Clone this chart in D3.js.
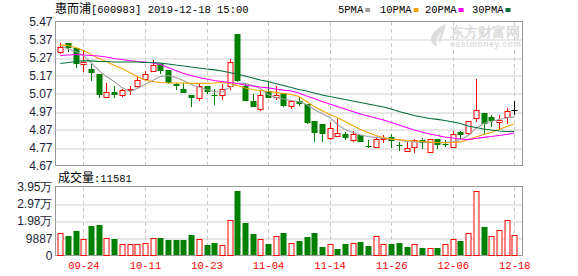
<!DOCTYPE html>
<html lang="zh">
<head>
<meta charset="UTF-8">
<title>惠而浦 日K</title>
<script src="https://d3js.org/d3.v7.min.js"></script>
<style>
  body { margin: 0; background: #fff; }
  svg text { font-family: "Liberation Sans", Arial, sans-serif; }
  .mono { font-family: "Liberation Mono", "Noto Sans CJK SC", monospace; }
</style>
</head>
<body>
<div id="chart"></div>
<script>
// trading days shown (2019)
const days = ["09-19","09-20","09-23","09-24","09-25","09-26","09-27","09-30",
  "10-08","10-09","10-10","10-11","10-14","10-15","10-16","10-17","10-18","10-21","10-22","10-23",
  "10-24","10-25","10-28","10-29","10-30","10-31","11-01","11-04","11-05","11-06","11-07","11-08",
  "11-11","11-12","11-13","11-14","11-15","11-18","11-19","11-20","11-21","11-22","11-25","11-26",
  "11-27","11-28","11-29","12-02","12-03","12-04","12-05","12-06","12-09","12-10","12-11","12-12",
  "12-13","12-16","12-17","12-18"];

const open = [5.30,5.35,5.32,5.235,5.207,5.18,5.05,5.081,5.064,5.09,5.113,5.15,5.194,5.235,5.198,
  5.12,5.096,5.059,5.044,5.109,5.059,5.064,5.11,5.402,5.11,5.031,4.985,5.083,5.049,5.072,
  4.999,5.031,5.009,4.92,4.898,4.82,4.835,4.843,4.81,4.837,4.777,4.772,4.82,4.827,4.783,
  4.753,4.775,4.809,4.744,4.818,4.79,4.772,4.855,4.852,4.935,4.96,4.94,4.91,4.937,4.98];
const high = [5.35,5.35,5.325,5.31,5.235,5.18,5.13,5.109,5.096,5.109,5.16,5.194,5.257,5.235,5.198,
  5.127,5.127,5.059,5.127,5.109,5.096,5.124,5.262,5.402,5.131,5.068,5.09,5.14,5.11,5.072,
  5.031,5.05,5.009,4.92,4.90,4.91,4.929,4.855,4.86,4.837,4.81,4.83,4.837,4.845,4.80,
  4.80,4.818,4.824,4.818,4.818,4.809,4.86,4.864,4.92,5.148,4.96,4.95,4.95,4.99,5.031];
const low = [5.29,5.30,5.21,5.19,5.14,5.045,5.045,5.044,5.05,5.064,5.096,5.146,5.194,5.18,5.12,
  5.092,5.072,4.994,5.031,5.068,5.008,5.035,5.092,5.133,5.031,4.994,4.972,5.046,5.035,4.994,
  4.985,5.0,4.90,4.80,4.80,4.81,4.835,4.81,4.80,4.80,4.765,4.77,4.794,4.77,4.75,
  4.753,4.74,4.763,4.744,4.763,4.772,4.772,4.818,4.837,4.91,4.845,4.885,4.865,4.90,4.948];
const close = [5.33,5.32,5.235,5.245,5.185,5.06,5.08,5.063,5.09,5.096,5.146,5.18,5.23,5.194,5.127,
  5.11,5.072,5.044,5.109,5.077,5.055,5.096,5.247,5.142,5.031,4.994,5.059,5.046,5.059,4.999,
  5.031,5.013,4.905,4.849,4.843,4.88,4.849,4.824,4.846,4.80,4.775,4.818,4.822,4.805,4.781,
  4.766,4.809,4.794,4.818,4.785,4.787,4.846,4.837,4.92,4.979,4.90,4.92,4.925,4.975,4.98];
const volume = [12620,11050,13960,9710,16870,17450,10290,9300,6800,6400,6400,7390,10290,9890,8720,
  8720,8720,11630,9300,5820,6980,6220,20360,36820,18610,12210,9300,6400,11050,12800,
  7390,8140,10470,12800,4650,6800,3490,6800,7390,7750,5230,11440,6800,6400,6980,
  4650,6800,4070,4460,4070,6800,9710,8140,13180,37220,16290,11440,14350,20160,11581];

const ma5 = [5.337,5.317,5.303,5.281,5.242,5.198,5.164,5.137,5.103,5.081,5.098,5.12,5.142,5.164,5.17,
  5.159,5.142,5.12,5.106,5.092,5.081,5.078,5.103,5.126,5.126,5.114,5.098,5.064,5.048,5.039,
  5.031,5.026,5.009,4.981,4.959,4.937,4.898,4.87,4.853,4.839,4.831,4.826,4.82,4.817,4.812,
  4.803,4.801,4.801,4.798,4.798,4.798,4.801,4.814,4.837,4.876,4.903,4.914,4.926,4.934,4.939];
const ma10 = [5.339,5.337,5.326,5.309,5.287,5.264,5.248,5.226,5.209,5.187,5.164,5.145,5.137,5.131,5.128,
  5.128,5.128,5.126,5.126,5.126,5.128,5.131,5.126,5.114,5.101,5.092,5.087,5.081,5.076,5.07,
  5.064,5.053,5.026,4.998,4.976,4.953,4.937,4.914,4.892,4.87,4.853,4.837,4.826,4.817,4.814,
  4.809,4.806,4.803,4.801,4.798,4.796,4.798,4.801,4.814,4.828,4.842,4.853,4.87,4.887,4.901];
const ma20 = [5.281,5.284,5.287,5.284,5.281,5.278,5.273,5.264,5.259,5.253,5.248,5.245,5.239,5.231,5.214,
  5.198,5.181,5.17,5.159,5.151,5.142,5.137,5.131,5.126,5.117,5.112,5.106,5.101,5.095,5.089,
  5.084,5.073,5.056,5.042,5.026,5.012,4.998,4.984,4.97,4.956,4.945,4.934,4.923,4.909,4.895,
  4.881,4.867,4.856,4.845,4.837,4.828,4.823,4.817,4.814,4.82,4.826,4.831,4.837,4.842,4.851];
const ma30 = [5.237,5.242,5.248,5.251,5.251,5.248,5.248,5.245,5.245,5.245,5.245,5.242,5.242,5.239,5.234,
  5.228,5.223,5.217,5.212,5.206,5.201,5.195,5.187,5.178,5.167,5.156,5.145,5.137,5.126,5.114,
  5.103,5.092,5.084,5.073,5.062,5.053,5.045,5.037,5.028,5.02,5.012,5.003,4.995,4.984,4.97,
  4.959,4.948,4.939,4.931,4.926,4.92,4.912,4.903,4.889,4.881,4.873,4.867,4.862,4.859,4.859];

const priceTicks = [4.67,4.77,4.87,4.97,5.07,5.17,5.27,5.37,5.47];
const volTicks = [0,9887,19775,29662,39550];
const volTickLabels = ["0","9887","1.98万","2.97万","3.95万"];
const dateTicks = ["09-24","10-11","10-23","11-04","11-14","11-26","12-06","12-18"];
const maNames = ["5PMA","10PMA","20PMA","30PMA"];

const width = 578, height = 276;
const left = 55.5, right = 522.5;
const RED = "#ff0000", GREEN = "#008000";
const maColors = ["#a0a0a0","#f5a300","#ff00ff","#00703a"];

const svg = d3.select("#chart").append("svg")
  .attr("width", width).attr("height", height);

const x = d3.scalePoint().domain(days).range([60.3, 514.3]);
const y = d3.scaleLinear().domain([4.67, 5.47]).range([165.5, 21.5]);
const yv = d3.scaleLinear().domain([0, 39550]).range([255.5, 186.5]);

const px = d => Math.round(x(d)) + 0.5;

// grid lines
function grid(scale, ticks, top, bottom) {
  svg.append("g").attr("transform", `translate(${left},0)`)
    .call(d3.axisLeft(scale).tickValues(ticks).tickSize(-(right - left)).tickFormat(""))
    .call(g => g.select(".domain").remove())
    .call(g => g.selectAll("line").attr("stroke", "#cfcfcf")
      .attr("y1", d => Math.round(scale(d)) + 0.5 - scale(d))
      .attr("y2", d => Math.round(scale(d)) + 0.5 - scale(d)));
  svg.append("g").selectAll("line").data(dateTicks).join("line")
    .attr("x1", px).attr("x2", px).attr("y1", top).attr("y2", bottom)
    .attr("stroke", "#cccccc").attr("stroke-dasharray", "4,3");
}
grid(y, priceTicks.slice(1, -1), 22, 165);
grid(yv, volTicks.slice(1, -1), 187, 255);

// watermark
const wm = svg.append("g").attr("fill", "#dcdcdc");
wm.append("path")
  .attr("d", "M446,24 C438,27 431,33 431,39 C431,43 434,45 437,46 C435,42 437,36 442,32 C439,36 438,40 440,43 C442,36 445,30 446,24 Z");
wm.append("text").attr("x", 450).attr("y", 37).attr("font-size", 14)
  .attr("font-family", "Noto Sans CJK SC").attr("font-weight", "bold").text("东方财富网");
wm.append("text").attr("x", 450).attr("y", 46.5).attr("font-size", 8.5).attr("font-weight", "bold")
  .attr("letter-spacing", 0.6).text("eastmoney.com");

// frames
svg.append("rect").attr("x", left).attr("y", 21.5).attr("width", right - left).attr("height", 144)
  .attr("fill", "none").attr("stroke", "#999");
svg.append("rect").attr("x", left).attr("y", 186.5).attr("width", right - left).attr("height", 69)
  .attr("fill", "none").attr("stroke", "#999");

// candles
const idx = d3.range(days.length);
const candleColor = i => close[i] > open[i] ? RED : close[i] < open[i] ? GREEN : "#000";
const cg = svg.append("g");
cg.selectAll("line").data(idx).join("line")
  .attr("x1", i => px(days[i])).attr("x2", i => px(days[i]))
  .attr("y1", i => Math.round(y(high[i]))).attr("y2", i => Math.round(y(low[i])))
  .attr("stroke", candleColor);
cg.selectAll("rect").data(idx).join("rect")
  .attr("x", i => Math.round(x(days[i])) - 2 + (close[i] > open[i] ? 0 : -0.5))
  .attr("y", i => Math.round(y(Math.max(open[i], close[i]))) + (close[i] > open[i] ? 0.5 : 0))
  .attr("width", i => close[i] > open[i] ? 5 : 6)
  .attr("height", i => Math.max(1, Math.round(y(Math.min(open[i], close[i]))) - Math.round(y(Math.max(open[i], close[i])))))
  .attr("fill", i => close[i] > open[i] ? "#fff" : candleColor(i))
  .attr("stroke", i => close[i] > open[i] ? RED : "none");

// moving averages
const maData = [ma5, ma10, ma20, ma30];
const line = d3.line().x((d, i) => x(days[i])).y(d => y(d));
svg.append("g").selectAll("path").data(maData).join("path")
  .attr("d", line).attr("fill", "none")
  .attr("stroke", (d, i) => maColors[i]).attr("stroke-width", 1.1);

// volume bars
const volUp = i => i === 0 ? close[i] >= open[i] : close[i] >= close[i - 1];
svg.append("g").selectAll("rect").data(idx).join("rect")
  .attr("x", i => Math.round(x(days[i])) - 2 + (volUp(i) ? 0 : -0.5))
  .attr("y", i => Math.round(yv(volume[i])) + (volUp(i) ? 0.5 : 0))
  .attr("width", i => volUp(i) ? 5 : 6)
  .attr("height", i => 255 - Math.round(yv(volume[i])))
  .attr("fill", i => volUp(i) ? "#fff" : GREEN)
  .attr("stroke", i => volUp(i) ? RED : "none");

// axis labels
svg.append("g").attr("transform", `translate(${left - 1},0)`)
  .call(d3.axisLeft(y).tickValues(priceTicks).tickSize(0).tickPadding(2).tickFormat(d3.format(".2f")))
  .call(g => g.select(".domain").remove())
  .call(g => g.selectAll("text").attr("font-size", 12).attr("fill", "#1e1e38")
    .attr("font-family", "Liberation Sans, Arial, sans-serif"));
svg.append("g").attr("transform", `translate(${left - 1},0)`)
  .call(d3.axisLeft(yv).tickValues(volTicks).tickSize(0).tickPadding(2)
    .tickFormat((d, i) => volTickLabels[i]))
  .call(g => g.select(".domain").remove())
  .call(g => g.selectAll("text").attr("font-size", 12).attr("fill", "#1e1e38")
    .attr("font-family", "Liberation Sans, Noto Sans CJK SC, sans-serif"));
svg.append("g").attr("transform", "translate(0,255.5)")
  .call(d3.axisBottom(x).tickValues(dateTicks).tickSize(0).tickPadding(6))
  .call(g => g.select(".domain").remove())
  .call(g => g.selectAll("text").attr("class", "mono").attr("font-size", 10.5).attr("fill", RED));

// title
const title = svg.append("text").attr("x", 55).attr("y", 13).attr("fill", "#000");
title.append("tspan").attr("font-family", "Noto Sans CJK SC").attr("font-size", 12).text("惠而浦");
title.append("tspan").attr("class", "mono").attr("font-size", 10.5).text("[600983] 2019-12-18 15:00");

// legend
const legendX = [338, 380, 425, 472];
const lg = svg.append("g").selectAll("g").data(maNames).join("g")
  .attr("transform", (d, i) => `translate(${legendX[i]},0)`);
lg.append("text").attr("class", "mono").attr("y", 12.5).attr("font-size", 10.5).attr("fill", "#000").text(d => d);
lg.append("rect").attr("x", d => d.length * 6.3 + 2).attr("y", 8).attr("width", 5).attr("height", 4)
  .attr("fill", (d, i) => maColors[i]);

// volume header
const vh = svg.append("text").attr("x", 58).attr("y", 182).attr("fill", "#000");
vh.append("tspan").attr("font-family", "Noto Sans CJK SC").attr("font-size", 12).text("成交量");
vh.append("tspan").attr("class", "mono").attr("font-size", 10.5).text(":" + volume[volume.length - 1]);
</script>
</body>
</html>
